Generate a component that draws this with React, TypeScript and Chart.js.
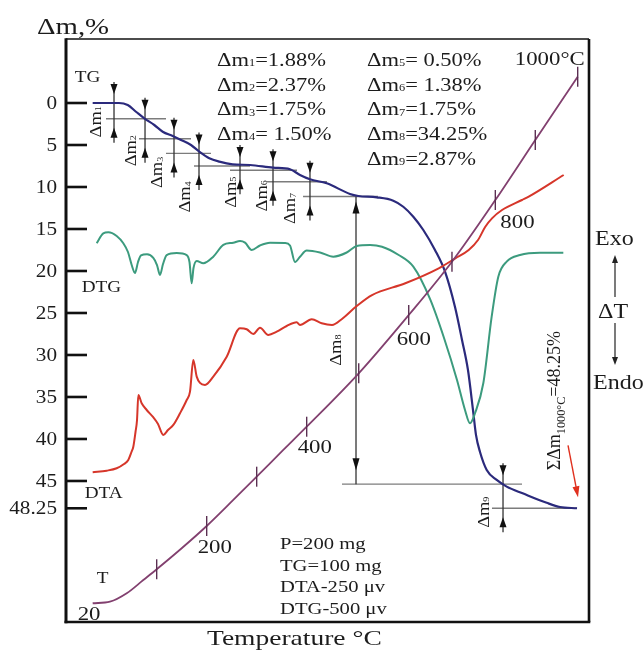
import React, { useEffect, useRef } from "react";
import { Chart, registerables } from "chart.js";
Chart.register(...registerables);

const FONT = '"Liberation Serif", "Times New Roman", serif';
const INK = "#1c1c1c";
const STRETCH = 1.22;

// Abscissa: heating time in arbitrary units 0–100 (the derivatogram shows no numeric x ticks)
const tgTime = [5.1, 10.13, 11.8, 13.38, 14.97, 16.88, 18.49, 20.4, 21.99, 23.9, 25.49, 27.4, 29.31, 31.87, 35.18, 39.58, 42.83, 44.74, 46.65, 49.85, 54.3, 55.89, 59.41, 62.58, 64.49, 66.41, 68.32, 70.55, 72.47, 74.38, 75.72, 76.86, 77.82, 78.39, 79.16, 80.44, 82.35, 84.26, 87.44, 91.91, 94.46, 97.71];
const tgLoss = [0, 0, 0.24, 1.04, 1.83, 2.62, 3.42, 3.93, 4.4, 5.0, 5.8, 6.58, 6.98, 7.3, 7.38, 7.7, 7.89, 8.57, 9.08, 9.56, 10.83, 11.07, 11.23, 11.63, 12.35, 13.54, 15.12, 17.5, 20.08, 24.29, 28.21, 31.79, 36.55, 39.52, 41.55, 43.69, 44.88, 45.67, 46.5, 47.6, 48.1, 48.25];

const dtgTime = [5.87, 7.13, 8.09, 9.69, 10.96, 11.85, 12.56, 13.19, 13.77, 14.34, 15.49, 16.69, 17.4, 17.97, 18.55, 19.25, 21.17, 23.08, 23.61, 24.03, 24.38, 24.99, 26.25, 28.16, 30.08, 31.99, 33.27, 34.23, 35.51, 37.09, 39.01, 41.87, 42.83, 43.79, 44.74, 46.02, 48.57, 51.11, 53.67, 55.58, 58.13, 60.42, 63.61, 66.41, 69.6, 72.28, 74.76, 76.29, 77.25, 78.2, 79.79, 81.39, 82.66, 84.26, 86.81, 90.63, 95.09];
const dtgSignal = [16.7, 15.51, 15.39, 15.83, 16.7, 17.74, 19.29, 20.24, 18.93, 18.15, 18.01, 18.45, 19.29, 20.48, 19.17, 18.1, 17.86, 18.1, 18.93, 21.46, 19.64, 18.81, 19.08, 18.3, 16.9, 16.63, 16.43, 16.63, 17.5, 16.96, 16.63, 16.67, 16.96, 18.93, 18.3, 17.56, 17.8, 18.3, 17.8, 17.02, 16.9, 17.11, 18.1, 19.49, 23.33, 27.98, 32.98, 36.55, 38.13, 36.94, 33.37, 25.44, 20.68, 18.89, 18.1, 17.82, 17.82];

const dtaTime = [5.1, 7.78, 9.69, 11.09, 11.91, 12.52, 12.87, 13.29, 13.58, 13.83, 14.47, 15.43, 16.63, 17.59, 18.6, 19.5, 20.52, 21.8, 23.08, 23.71, 24.34, 24.99, 25.62, 26.58, 28.16, 30.73, 33.27, 34.55, 35.81, 37.09, 38.68, 40.29, 42.2, 44.11, 44.74, 46.98, 48.89, 50.86, 52.77, 55.58, 58.51, 64.88, 71.26, 74.44, 77.0, 78.78, 80.17, 81.45, 83.37, 87.19, 88.47, 95.16];
const dtaSignal = [43.96, 43.77, 43.49, 42.98, 42.5, 41.55, 40.92, 39.17, 37.74, 34.76, 35.75, 36.55, 37.38, 38.21, 39.52, 38.93, 38.33, 36.94, 35.36, 34.37, 30.6, 32.58, 33.33, 33.57, 32.58, 30.2, 26.82, 26.94, 27.5, 26.75, 27.62, 27.23, 26.55, 26.11, 26.43, 25.75, 26.23, 26.43, 25.71, 24.17, 22.86, 21.46, 19.68, 18.49, 17.5, 16.31, 14.73, 13.73, 12.74, 11.55, 11.15, 8.57];

const tTime = [5.1, 8.41, 11.61, 14.78, 17.34, 22.12, 26.9, 31.99, 36.46, 41.55, 46.02, 55.97, 65.53, 73.8, 82.09, 89.73, 97.84];
const tSignal = [59.56, 59.37, 58.37, 56.79, 55.51, 53.01, 50.36, 47.26, 44.49, 41.31, 38.54, 32.18, 25.24, 18.89, 11.55, 4.4, -3.13];
const tempMarkIndex = [4, 6, 8, 10, 11, 12, 13, 14, 15, 16];
const tempLabels = ["20", "200", "400", "600", "800", "1000°C"];
const tempLabelIndex = [0, 6, 10, 12, 14, 16];

const yTickValues = [0, 5, 10, 15, 20, 25, 30, 35, 40, 45, 48.25];

const dmValues = [1.88, 2.37, 1.75, 1.5, 0.5, 1.38, 1.75, 34.25, 2.87];
const dmArrowTime = [9.18, 15.11, 20.65, 25.43, 33.27, 39.58, 46.65, 55.45, 83.56];
const dmLevelFrom = [7.65, 13.96, 19.12, 24.47, 31.36, 38.43, 45.32, 52.77, 81.45];
const dmLevelTo = [19.12, 23.9, 27.72, 35.18, 44.17, 49.9, 59.66, 87.19, 97.71];

const sampleInfo = ["P=200 mg", "TG=100 mg", "DTA-250 μv", "DTG-500 μv"];

// ---- layout (pixels) ----
const dmLabelOffset = [[-19, 3], [-15, 12], [-17, 19], [-14, 31], [-10, 22], [-12, 14], [-20, 12], [-21, -134], [-20, 4]];
const dmSpaced = [false, false, false, true, true, true, false, false, false];
const tempLabelOffset = [[-15, 17, "left"], [-9, 27, "left"], [-9, 26, "left"], [-12, 30, "left"], [5, 28, "left"], [7, -12, "right"]];

type Part = [string, boolean];

function setFont(ctx: CanvasRenderingContext2D, size: number) {
  ctx.font = `${size}px ${FONT}`;
}

function richWidth(ctx: CanvasRenderingContext2D, parts: Part[], size: number, subScale = 0.6) {
  let w = 0;
  for (const [s, sub] of parts) {
    setFont(ctx, sub ? size * subScale : size);
    w += ctx.measureText(s).width;
  }
  return w;
}

function drawRich(ctx: CanvasRenderingContext2D, parts: Part[], x: number, y: number, size: number, align: string, stretch: number, subScale = 0.6, subDrop = 0.12) {
  const w = richWidth(ctx, parts, size, subScale) * stretch;
  let x0 = x;
  if (align === "center") x0 = x - w / 2;
  else if (align === "right") x0 = x - w;
  ctx.save();
  ctx.translate(x0, y);
  ctx.scale(stretch, 1);
  ctx.textAlign = "left";
  ctx.textBaseline = "alphabetic";
  let cx = 0;
  for (const [s, sub] of parts) {
    const fs = sub ? size * subScale : size;
    setFont(ctx, fs);
    ctx.fillText(s, cx, sub ? size * subDrop : 0);
    cx += ctx.measureText(s).width;
  }
  ctx.restore();
}

function drawText(ctx: CanvasRenderingContext2D, s: string, x: number, y: number, size: number, align = "left", stretch = STRETCH) {
  drawRich(ctx, [[s, false]], x, y, size, align, stretch);
}

function arrowHead(ctx: CanvasRenderingContext2D, x: number, tipY: number, dir: number, len = 10, half = 3.5) {
  ctx.beginPath();
  ctx.moveTo(x, tipY);
  ctx.lineTo(x - half, tipY - dir * len);
  ctx.lineTo(x + half, tipY - dir * len);
  ctx.closePath();
  ctx.fill();
}

function line(ctx: CanvasRenderingContext2D, x1: number, y1: number, x2: number, y2: number) {
  ctx.beginPath();
  ctx.moveTo(x1, y1);
  ctx.lineTo(x2, y2);
  ctx.stroke();
}

function cumulativeLevels() {
  const lv = [0];
  dmValues.forEach((v) => lv.push(lv[lv.length - 1] + v));
  return lv;
}

const thermoPlugin = {
  id: "thermo",
  beforeDatasetsDraw(chart: any) {
    const { ctx, scales } = chart;
    const xs = scales.x, ys = scales.y;
    const lv = cumulativeLevels();
    ctx.save();
    ctx.strokeStyle = "#7c7c7c";
    ctx.lineWidth = 1.4;
    for (let i = 0; i < dmValues.length; i++) {
      const py = ys.getPixelForValue(lv[i + 1]);
      line(ctx, xs.getPixelForValue(dmLevelFrom[i]), py, xs.getPixelForValue(dmLevelTo[i]), py);
    }
    ctx.strokeStyle = "#333";
    ctx.fillStyle = "#111";
    ctx.lineWidth = 1.3;
    for (let i = 0; i < dmValues.length; i++) {
      const px = xs.getPixelForValue(dmArrowTime[i]);
      const yU = ys.getPixelForValue(lv[i]);
      const yL = ys.getPixelForValue(lv[i + 1]);
      if (yL - yU > 60) {
        line(ctx, px, yU, px, yL);
        arrowHead(ctx, px, yU + 5, -1, 12, 3.5);
        arrowHead(ctx, px, yL - 14, 1, 12, 3.5);
      } else {
        line(ctx, px, yU - 21, px, yL + 24);
        arrowHead(ctx, px, yU - 9, 1);
        arrowHead(ctx, px, yL + 9, -1);
      }
    }
    ctx.restore();
  },
  afterDatasetsDraw(chart: any) {
    const { ctx, chartArea: a, scales } = chart;
    const xs = scales.x, ys = scales.y;
    const lv = cumulativeLevels();
    ctx.save();

    // temperature marks on T curve
    ctx.strokeStyle = "#5b2f52";
    ctx.lineWidth = 1.4;
    for (const k of tempMarkIndex) {
      const px = xs.getPixelForValue(tTime[k]);
      const py = ys.getPixelForValue(tSignal[k]);
      line(ctx, px, py - 10, px, py + 10);
    }

    // frame
    ctx.strokeStyle = "#111";
    ctx.lineWidth = 1.6;
    line(ctx, a.left, a.top, a.right, a.top);
    ctx.lineWidth = 2.6;
    line(ctx, a.right, a.top, a.right, a.bottom);
    line(ctx, a.left - 1.5, a.bottom, a.right + 1.3, a.bottom);
    ctx.lineWidth = 3;
    line(ctx, a.left, a.top - 0.8, a.left, a.bottom + 1.3);

    // y ticks (inside) and labels
    ctx.fillStyle = INK;
    ctx.lineWidth = 2.6;
    for (const v of yTickValues) {
      const py = ys.getPixelForValue(v);
      line(ctx, a.left, py, a.left + 21, py);
      drawText(ctx, String(v), a.left - 9, py + 6, 18, "right", 1.18);
    }

    // axis titles
    drawText(ctx, "Δm,%", 37, 34, 24, "left", 1.2);
    drawText(ctx, "Temperature °C", 207, 645, 22, "left", 1.25);

    // curve names
    const nameAt = (s: string, t: number[], v: number[], dx: number, dy: number) => {
      drawText(ctx, s, xs.getPixelForValue(t[0]) + dx, ys.getPixelForValue(v[0]) + dy, 16, "left", 1.2);
    };
    nameAt("TG", tgTime, tgLoss, -18, -21);
    nameAt("DTG", dtgTime, dtgSignal, -15, 49);
    nameAt("DTA", dtaTime, dtaSignal, -8, 26);
    nameAt("T", tTime, tSignal, 4, -20);

    // temperature labels
    tempLabels.forEach((s, i) => {
      const k = tempLabelIndex[i];
      const [dx, dy, al] = tempLabelOffset[i] as [number, number, string];
      drawText(ctx, s, xs.getPixelForValue(tTime[k]) + dx, ys.getPixelForValue(tSignal[k]) + dy, 19, al, 1.2);
    });

    // mass-loss list
    dmValues.forEach((v, i) => {
      const col = i < 4 ? 0 : 1;
      const row = i < 4 ? i : i - 4;
      const parts: Part[] = [["Δm", false], [String(i + 1), true], [(dmSpaced[i] ? "= " : "=") + v.toFixed(2) + "%", false]];
      drawRich(ctx, parts, col === 0 ? 217 : 367, 66 + row * 24.7, 18, "left", 1.25, 0.55, 0.02);
    });

    // Δm dimension labels (rotated)
    dmValues.forEach((_, i) => {
      const px = xs.getPixelForValue(dmArrowTime[i]) + dmLabelOffset[i][0];
      const py = ys.getPixelForValue(lv[i + 1]) + dmLabelOffset[i][1];
      ctx.save();
      ctx.translate(px, py);
      ctx.rotate(-Math.PI / 2);
      drawRich(ctx, [["Δm", false], [String(i + 1), true]], 0, 5.5, 16, "center", 1.15, 0.55, 0.02);
      ctx.restore();
    });

    // total loss label
    const total = dmValues.reduce((s, v) => s + v, 0);
    const endX = xs.getPixelForValue(tgTime[tgTime.length - 1]);
    const endY = ys.getPixelForValue(tgLoss[tgLoss.length - 1]);
    ctx.save();
    ctx.translate(endX - 17, endY - 38);
    ctx.rotate(-Math.PI / 2);
    drawRich(ctx, [["ΣΔm", false], ["1000°C", true], ["=" + total.toFixed(2) + "%", false]], 0, 0, 18, "left", 1.0, 0.68, 0.3);
    ctx.restore();
    ctx.strokeStyle = "#e0301e";
    ctx.fillStyle = "#e0301e";
    ctx.lineWidth = 1.4;
    const ax1 = endX - 9, ay1 = endY - 63, ax2 = endX + 1, ay2 = endY - 11;
    line(ctx, ax1, ay1, ax2 - 1.5, ay2 - 8);
    ctx.save();
    ctx.translate(ax2, ay2);
    ctx.rotate(Math.atan2(ay2 - ay1, ax2 - ax1) - Math.PI / 2);
    ctx.beginPath();
    ctx.moveTo(0, 0);
    ctx.lineTo(-3.5, -11);
    ctx.lineTo(3.5, -11);
    ctx.closePath();
    ctx.fill();
    ctx.restore();

    // sample info
    ctx.fillStyle = INK;
    sampleInfo.forEach((s, i) => drawText(ctx, s, 280, 549 + i * 21.5, 16.5, "left", 1.25));

    // Exo / ΔT / Endo
    drawText(ctx, "Exo", a.right + 6, 245, 20, "left", 1.2);
    drawText(ctx, "ΔT", a.right + 24, 318, 20, "center", 1.2);
    drawText(ctx, "Endo", a.right + 4, 389, 20, "left", 1.2);
    ctx.strokeStyle = "#222";
    ctx.fillStyle = "#222";
    ctx.lineWidth = 1.2;
    const ex = a.right + 26;
    line(ctx, ex, 297, ex, 262);
    arrowHead(ctx, ex, 255, -1, 8, 3);
    line(ctx, ex, 323, ex, 358);
    arrowHead(ctx, ex, 365, 1, 8, 3);

    ctx.restore();
  },
};

export default function App() {
  const ref = useRef<HTMLCanvasElement>(null);
  useEffect(() => {
    const canvas = ref.current;
    if (!canvas) return;
    const pts = (xv: number[], yv: number[]) => xv.map((x, i) => ({ x, y: yv[i] }));
    const chart = new Chart(canvas, {
      type: "line",
      data: {
        datasets: [
          { label: "T", data: pts(tTime, tSignal), borderColor: "#82406f", borderWidth: 1.8 },
          { label: "DTA", data: pts(dtaTime, dtaSignal), borderColor: "#d6362a", borderWidth: 2 },
          { label: "DTG", data: pts(dtgTime, dtgSignal), borderColor: "#3c9b7e", borderWidth: 2 },
          { label: "TG", data: pts(tgTime, tgLoss), borderColor: "#2b2a7c", borderWidth: 2.2 },
        ],
      },
      options: {
        responsive: false,
        animation: false,
        events: [],
        layout: { padding: { left: 66, top: 39, right: 55, bottom: 28 } },
        elements: {
          point: { radius: 0 },
          line: { cubicInterpolationMode: "monotone", fill: false },
        },
        scales: {
          x: { type: "linear", min: 0, max: 100, display: false },
          y: { type: "linear", min: -7.62, max: 61.79, reverse: true, display: false },
        },
        plugins: { legend: { display: false }, tooltip: { enabled: false } },
      },
      plugins: [thermoPlugin],
    } as any);
    return () => chart.destroy();
  }, []);
  return (
    <div style={{ position: "absolute", left: 0, top: 0, width: 644, height: 650, background: "#fff" }}>
      <canvas ref={ref} width={644} height={650} style={{ width: 644, height: 650, display: "block" }} />
    </div>
  );
}
